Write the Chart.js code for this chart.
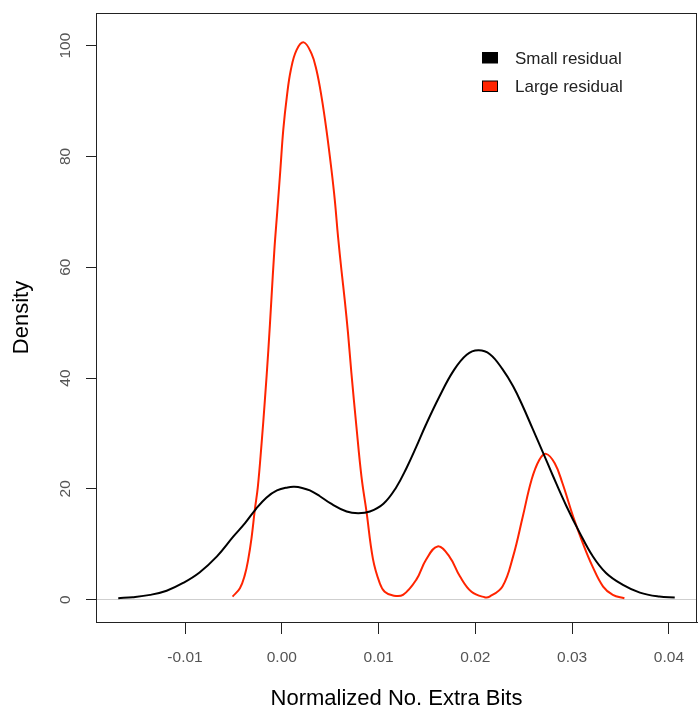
<!DOCTYPE html>
<html>
<head>
<meta charset="utf-8">
<script src="https://cdn.jsdelivr.net/npm/chart.js@4"></script>
<style>
  html, body { margin: 0; padding: 0; background: #fff; }
  canvas { display: block; }
</style>
</head>
<body>
<canvas id="chart" width="698" height="709"></canvas>
<script>
// Density estimates
const smallX = [-0.0169, -0.0154, -0.0136, -0.0119, -0.0102, -0.0085, -0.0067, -0.0050, -0.0038, -0.0027, -0.0016, -0.0005, 0.0006, 0.0013, 0.0021, 0.0029, 0.0039, 0.0050, 0.0067, 0.0079, 0.0091, 0.0105, 0.0118, 0.0129, 0.0139, 0.0149, 0.0163, 0.0177, 0.0191, 0.0203, 0.0215, 0.0228, 0.0239, 0.0249, 0.0259, 0.0270, 0.0280, 0.0294, 0.0308, 0.0321, 0.0335, 0.0352, 0.0370, 0.0390, 0.0406];
const smallY = [0.25, 0.43, 0.85, 1.6, 3.0, 4.9, 7.8, 11.4, 13.8, 16.3, 18.4, 19.7, 20.25, 20.35, 20.15, 19.7, 18.7, 17.4, 15.9, 15.6, 15.9, 17.3, 20.2, 23.8, 27.6, 31.6, 36.7, 41.2, 44.2, 45.0, 44.3, 41.6, 38.5, 34.9, 30.9, 26.5, 22.4, 16.9, 12.0, 7.9, 4.8, 2.7, 1.26, 0.54, 0.36];

const largeX = [-0.00509, -0.00433, -0.00382, -0.00348, -0.00313, -0.00279, -0.00248, -0.00209, -0.00175, -0.00139, -0.00108, -0.00077, -0.00046, -0.00015, 0.00015, 0.00052, 0.00093, 0.00152, 0.00227, 0.00306, 0.00358, 0.00410, 0.00461, 0.00513, 0.00547, 0.00581, 0.00616, 0.00650, 0.00684, 0.00719, 0.00771, 0.00823, 0.00874, 0.00942, 0.01011, 0.01063, 0.01149, 0.01252, 0.0139, 0.0149, 0.0161, 0.0173, 0.0184, 0.0196, 0.02095, 0.02147, 0.0228, 0.0239, 0.0249, 0.0258, 0.0266, 0.0273, 0.0282, 0.0290, 0.0301, 0.0311, 0.0321, 0.0332, 0.0342, 0.0354];
const largeY = [0.54, 2.06, 4.46, 7.17, 11.1, 16.2, 20.3, 28.2, 36.0, 45.1, 54.1, 63.1, 70.3, 77.6, 84.8, 90.8, 95.6, 99.2, 100.6, 98.6, 95.6, 90.8, 84.8, 77.6, 72.2, 65.5, 59.5, 54.1, 48.1, 40.9, 31.2, 22.2, 16.0, 7.3, 3.0, 1.4, 0.72, 0.85, 3.6, 7.2, 9.6, 7.8, 4.2, 1.4, 0.43, 0.54, 2.35, 7.8, 15.0, 21.6, 25.2, 26.3, 24.6, 21.0, 15.0, 10.2, 6.0, 2.35, 0.85, 0.25];

const xTicks = [-0.01, 0.00, 0.01, 0.02, 0.03, 0.04];
const xTickLabels = ['-0.01', '0.00', '0.01', '0.02', '0.03', '0.04'];
const yTicks = [0, 20, 40, 60, 80, 100];
const yTickLabels = ['0', '20', '40', '60', '80', '100'];

const seriesNames = ['Small residual', 'Large residual'];
const seriesColors = ['#000000', '#ff2400'];

const FONT = "'Liberation Sans', Arial, sans-serif";

function toPoints(xs, ys) {
    return xs.map((x, i) => ({ x: x, y: ys[i] }));
}

// Text, legend and frame drawn R-style on top of the chart
const rStylePlugin = {
    id: 'rStyle',
    afterDraw(chart) {
        const ctx = chart.ctx;
        const area = chart.chartArea;
        const xs = chart.scales.x;
        const ys = chart.scales.y;

        ctx.save();

        // frame
        ctx.strokeStyle = '#222';
        ctx.lineWidth = 1;
        ctx.strokeRect(Math.round(area.left) + 0.5, Math.round(area.top) + 0.5,
            Math.round(area.right - area.left) - 1, Math.round(area.bottom - area.top));

        // x tick labels
        ctx.fillStyle = '#555';
        ctx.font = '15.5px ' + FONT;
        ctx.textAlign = 'center';
        ctx.textBaseline = 'alphabetic';
        xTicks.forEach((v, i) => {
            ctx.fillText(xTickLabels[i], xs.getPixelForValue(v), 662);
        });

        // y tick labels (rotated)
        yTicks.forEach((v, i) => {
            ctx.save();
            ctx.translate(70, ys.getPixelForValue(v));
            ctx.rotate(-Math.PI / 2);
            ctx.fillText(yTickLabels[i], 0, 0);
            ctx.restore();
        });

        // axis titles
        ctx.fillStyle = '#000';
        ctx.font = '22px ' + FONT;
        ctx.fillText('Normalized No. Extra Bits', (area.left + area.right) / 2, 705);
        ctx.save();
        ctx.translate(28, (area.top + area.bottom) / 2);
        ctx.rotate(-Math.PI / 2);
        ctx.fillText('Density', 0, 0);
        ctx.restore();

        // legend
        ctx.font = '17px ' + FONT;
        ctx.textAlign = 'left';
        const rows = [57.5, 86];
        seriesNames.forEach((name, i) => {
            const cy = rows[i];
            ctx.fillStyle = seriesColors[i];
            ctx.fillRect(482.5, cy - 5, 15, 10.5);
            ctx.strokeStyle = '#000';
            ctx.strokeRect(482.5, cy - 5, 15, 10.5);
            ctx.fillStyle = '#222';
            ctx.fillText(name, 515, cy + 6);
        });

        ctx.restore();
    }
};

const ctx = document.getElementById('chart').getContext('2d');
new Chart(ctx, {
    type: 'line',
    data: {
        datasets: [
            {
                label: seriesNames[0],
                data: toPoints(smallX, smallY),
                borderColor: seriesColors[0],
                borderWidth: 2,
                pointRadius: 0,
                tension: 0.4,
                fill: false
            },
            {
                label: seriesNames[1],
                data: toPoints(largeX, largeY),
                borderColor: seriesColors[1],
                borderWidth: 2,
                pointRadius: 0,
                tension: 0.4,
                fill: false
            }
        ]
    },
    options: {
        responsive: false,
        devicePixelRatio: 1,
        animation: false,
        layout: { padding: { left: 0, top: 13, right: 1, bottom: 0 } },
        plugins: {
            legend: { display: false },
            tooltip: { enabled: false }
        },
        scales: {
            x: {
                type: 'linear',
                min: -0.0192,
                max: 0.0429,
                afterBuildTicks: s => { s.ticks = xTicks.map(v => ({ value: v })); },
                afterFit: s => { s.height = 87; },
                ticks: { display: false },
                grid: {
                    drawOnChartArea: false,
                    drawTicks: true,
                    tickLength: 12,
                    tickColor: '#222'
                },
                border: { display: true, color: '#222', width: 1 }
            },
            y: {
                type: 'linear',
                min: -4.05,
                max: 105.9,
                afterBuildTicks: s => { s.ticks = yTicks.map(v => ({ value: v })); },
                afterFit: s => { s.width = 96; },
                ticks: { display: false },
                grid: {
                    drawOnChartArea: true,
                    drawTicks: true,
                    tickLength: 10,
                    tickColor: '#222',
                    color: c => (c.tick && c.tick.value === 0) ? '#cfcfcf' : 'rgba(0,0,0,0)'
                },
                border: { display: true, color: '#222', width: 1 }
            }
        }
    },
    plugins: [rStylePlugin]
});
</script>
</body>
</html>
